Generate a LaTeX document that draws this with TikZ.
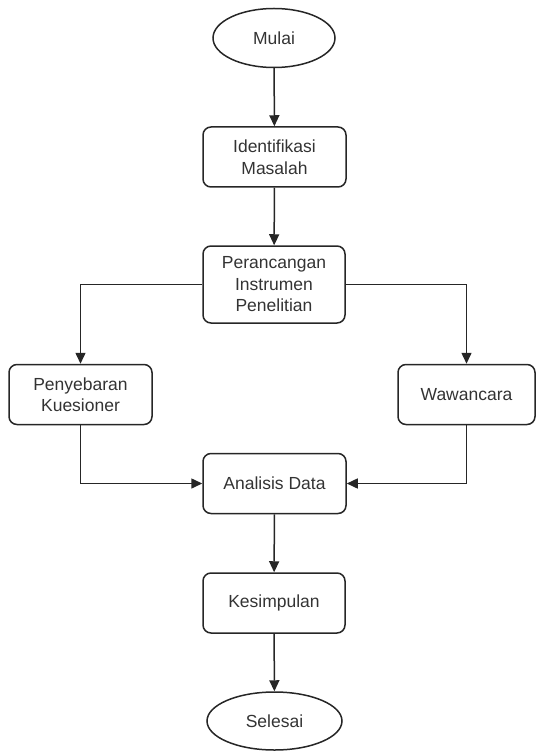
\documentclass[tikz,border=0pt]{standalone}
\usepackage{fontspec}
\setmainfont{Liberation Sans}
\usetikzlibrary{shapes.geometric,arrows.meta}
\begin{document}
\begin{tikzpicture}[x=1pt,y=-1pt,
  every node/.style={font=\fontsize{17.5}{21.5}\selectfont, text=black!80, align=center, inner sep=0pt},
  procbox/.style={draw=black!85, line width=1.5pt, rounded corners=8pt, minimum width=143pt, minimum height=60pt},
  termnode/.style={draw=black!85, line width=1.5pt, ellipse, minimum width=122pt, minimum height=59pt},
  arr/.style={draw=black!85, line width=1.5pt, -{Triangle[length=11pt,width=10pt]}}
]
\useasboundingbox (0,0) rectangle (535,751);
\node[termnode] (mulai) at (274,38) {Mulai};
\node[procbox] (ident) at (274.5,157) {Identifikasi\\Masalah};
\node[procbox, minimum width=142pt, minimum height=77pt] (peran) at (274,284.5) {Perancangan\\Instrumen\\Penelitian};
\node[procbox] (peny) at (80.5,394.5) {Penyebaran\\Kuesioner};
\node[procbox, minimum width=137pt] (waw) at (466.5,394.5) {Wawancara};
\node[procbox] (anal) at (274.5,483.5) {Analisis Data};
\node[procbox, minimum width=142pt] (kes) at (274,603) {Kesimpulan};
\node[termnode, minimum width=135pt, minimum height=58pt] (sel) at (274.5,721) {Selesai};

\draw[arr] (mulai) -- (ident);
\draw[arr] (ident) -- (peran);
\draw[arr] (peran.west) -| (peny.north);
\draw[arr] (peran.east) -| (waw.north);
\draw[arr] (peny.south) |- (anal.west);
\draw[arr] (waw.south) |- (anal.east);
\draw[arr] (anal) -- (kes);
\draw[arr] (kes) -- (sel);
\end{tikzpicture}
\end{document}
